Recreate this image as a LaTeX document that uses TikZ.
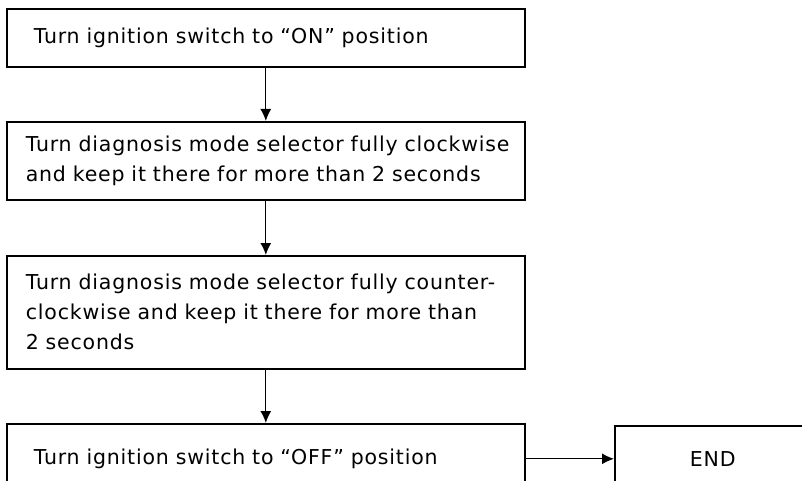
\documentclass[tikz,border=0pt]{standalone}
\usepackage{fontspec}
\setmainfont[LetterSpace=4.0]{DejaVu Sans}
\usetikzlibrary{arrows.meta,positioning}

\begin{document}
\begin{tikzpicture}[x=1pt, y=-1pt, font=\fontsize{20.5}{30}\selectfont,
  stepbox/.style={draw, line width=1.6pt, rectangle, anchor=north west,
    minimum width=518pt, align=left, inner xsep=19pt, text width=480pt},
  shortbox/.style={stepbox, inner xsep=27pt, text width=464pt},
  flow/.style={line width=1.3pt, -{Latex[length=12pt,width=11pt]}}]
\clip (0,0) rectangle (802,481);
% flow of steps
\node[shortbox, minimum height=58pt] (on) at (6,8)
  {Turn ignition switch to “ON” position};
\node[stepbox, minimum height=78pt] (cw) at (6,121)
  {Turn diagnosis mode selector fully clockwise\\
   and keep it there for more than 2 seconds};
\node[stepbox, minimum height=113pt] (ccw) at (6,255)
  {Turn diagnosis mode selector fully counter-\\
   clockwise and keep it there for more than\\
   2 seconds};
\node[shortbox, minimum height=70pt] (off) at (6,423)
  {Turn ignition switch to “OFF” position};
\node[draw, line width=1.6pt, rectangle, anchor=north west, minimum width=196pt,
  minimum height=66pt] (end) at (614,425) {END};
% connectors
\draw[flow] (on.south) -- (cw.north);
\draw[flow] (cw.south) -- (ccw.north);
\draw[flow] (ccw.south) -- (off.north);
\draw[flow] (off.east) -- (end.west);
\end{tikzpicture}
\end{document}
